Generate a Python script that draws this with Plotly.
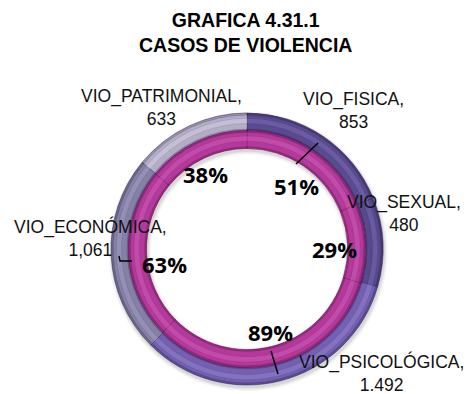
import plotly.graph_objects as go

# Violence cases by type (outer ring) and share labels (inner ring)
categories = ["VIO_FISICA", "VIO_SEXUAL", "VIO_PSICOLÓGICA", "VIO_ECONÓMICA", "VIO_PATRIMONIAL"]
case_counts = [853, 480, 1492, 1061, 633]
count_labels = ["853", "480", "1.492", "1,061", "633"]
share_pct = [51, 29, 89, 63, 38]

title_lines = ["GRAFICA 4.31.1", "CASOS DE VIOLENCIA"]

# ---- styling / layout constants ----
W, H = 470, 394
CX, CY = 247, 249          # ring centre (px)
R_OUT = 136                # outer radius of outer ring
R_MID = 118.5              # border between outer ring and inner ring
R_IN = 100.5               # inner edge of inner ring

outer_colors = ["#5a4a8f", "#58488c", "#7360b0", "#8580a6", "#b3adc6"]
outer_light = ["#6a5ba2", "#685a9f", "#8472c0", "#948fb5", "#c4bfd5"]
outer_dark = ["#4a3c78", "#483b75", "#5f4e96", "#6e6a8c", "#9893ac"]
inner_color = "#b3399b"
inner_light = "#c14ba9"
inner_dark = "#982c83"

# label anchor points (px) for outer labels and inner percentages
outer_label_pos = [(353, 110), (404, 213), (381, 373), (90, 238), (161, 108)]
pct_label_pos = [(296, 186), (334, 249), (270, 332), (164, 264), (205, 174)]
leader_lines = [
    [(296, 164), (318, 143)],
    [(271, 351), (278, 374)],
    [(119, 256), (120, 261), (132, 261)],
]


def fx(x):
    return x / W


def fy(y):
    return 1 - y / H


def domain(cx, cy, r):
    return dict(x=[fx(cx - r), fx(cx + r)], y=[fy(cy + r), fy(cy - r)])


def ring(values, colors, r_outer, r_inner, cx=CX, cy=CY, line_color="rgba(0,0,0,0)", lw=0):
    return go.Pie(
        values=values,
        labels=categories,
        sort=False,
        direction="clockwise",
        rotation=0,
        hole=r_inner / r_outer,
        domain=domain(cx, cy, r_outer),
        marker=dict(colors=colors, line=dict(color=line_color, width=lw)),
        textinfo="none",
        hoverinfo="label+value",
        showlegend=False,
    )


fig = go.Figure()

# soft drop shadow around the rings
for grow, alpha in [(3.5, 0.05), (2.0, 0.07), (0.8, 0.09)]:
    fig.add_trace(ring(case_counts, [f"rgba(60,60,60,{alpha})"] * 5,
                       R_OUT + grow, R_IN - grow, cx=CX + 1, cy=CY + 2.5))

# outer ring: counts (dark rim, body, soft highlight)
t_out = R_OUT - R_MID
fig.add_trace(ring(case_counts, outer_dark, R_OUT, R_MID, line_color="rgba(40,30,70,0.5)", lw=1))
fig.add_trace(ring(case_counts, outer_colors, R_OUT - 0.12 * t_out, R_MID + 0.08 * t_out,
                   line_color="rgba(40,30,70,0.3)", lw=0.8))
fig.add_trace(ring(case_counts, outer_light, R_OUT - 0.3 * t_out, R_MID + 0.4 * t_out,
                   line_color="rgba(40,30,70,0.2)", lw=0.6))

# inner ring: percentages
t_in = R_MID - R_IN
fig.add_trace(ring(share_pct, [inner_dark] * 5, R_MID, R_IN, line_color="rgba(90,10,70,0.55)", lw=1))
fig.add_trace(ring(share_pct, [inner_color] * 5, R_MID - 0.1 * t_in, R_IN + 0.1 * t_in,
                   line_color="rgba(90,10,70,0.3)", lw=0.8))
fig.add_trace(ring(share_pct, [inner_light] * 5, R_MID - 0.3 * t_in, R_IN + 0.4 * t_in,
                   line_color="rgba(90,10,70,0.2)", lw=0.6))

annotations = []
# title
annotations.append(dict(
    x=fx(245), y=fy(33), xref="paper", yref="paper", showarrow=False,
    text="<b>" + "<br>".join(title_lines) + "</b>",
    font=dict(family="Liberation Sans, Arial", size=19.5, color="#000000"),
    align="center", xanchor="center", yanchor="middle",
))
# outer labels: "name,<br>count"
for name, lab, (x, y) in zip(categories, count_labels, outer_label_pos):
    annotations.append(dict(
        x=fx(x), y=fy(y), xref="paper", yref="paper", showarrow=False,
        text=f"{name},<br>{lab}",
        font=dict(family="Liberation Sans, Arial", size=17.5, color="#111111"),
        align="center", xanchor="center", yanchor="middle",
    ))
# inner percentage labels
for p, (x, y) in zip(share_pct, pct_label_pos):
    annotations.append(dict(
        x=fx(x), y=fy(y), xref="paper", yref="paper", showarrow=False,
        text=f"<b>{p}%</b>",
        font=dict(family="Open Sans, Lato, sans-serif", size=22, color="#000000"),
        xanchor="center", yanchor="middle",
    ))

shapes = []
for pts in leader_lines:
    path = "M " + " L ".join(f"{fx(x)},{fy(y)}" for x, y in pts)
    shapes.append(dict(type="path", path=path, xref="paper", yref="paper",
                       line=dict(color="#000000", width=1.5)))

fig.update_layout(
    width=W, height=H,
    margin=dict(l=0, r=0, t=0, b=0),
    paper_bgcolor="white", plot_bgcolor="white",
    annotations=annotations,
    shapes=shapes,
)

fig.write_html("out.html")
